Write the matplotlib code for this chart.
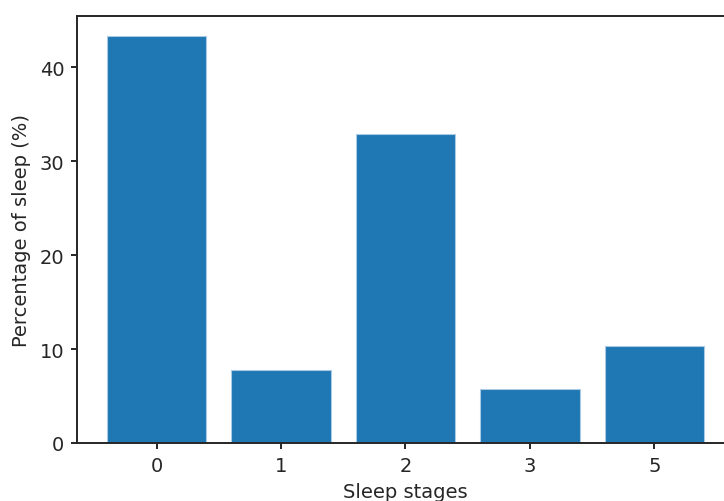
import matplotlib
matplotlib.use("Agg")
import matplotlib.pyplot as plt

stages = ["0", "1", "2", "3", "5"]
percentages = [43.3, 7.8, 32.85, 5.72, 10.33]

plt.rcParams["font.family"] = ["DejaVu Sans"]
plt.rcParams["font.size"] = 14
text_color = "#262626"
plt.rcParams["text.color"] = text_color
plt.rcParams["axes.labelcolor"] = text_color
plt.rcParams["xtick.color"] = text_color
plt.rcParams["ytick.color"] = text_color

fig = plt.figure(figsize=(7.24, 5.02), dpi=100)
ax = fig.add_axes([77 / 724, (502 - 444) / 502, (734 - 77) / 724, (444 - 17) / 502])

ax.bar(stages, percentages, width=0.8, color="#1f77b4",
       edgecolor="#a9cbe6", linewidth=0.8)

ax.set_xlabel("Sleep stages", labelpad=5)
ax.set_ylabel("Percentage of sleep (%)", labelpad=6)
ax.set_yticks([0, 10, 20, 30, 40])

for side in ax.spines.values():
    side.set_color(text_color)
    side.set_linewidth(1.4)
ax.tick_params(width=1.4, length=4.6, pad=4.5)

fig.savefig("out.png", dpi=100)
